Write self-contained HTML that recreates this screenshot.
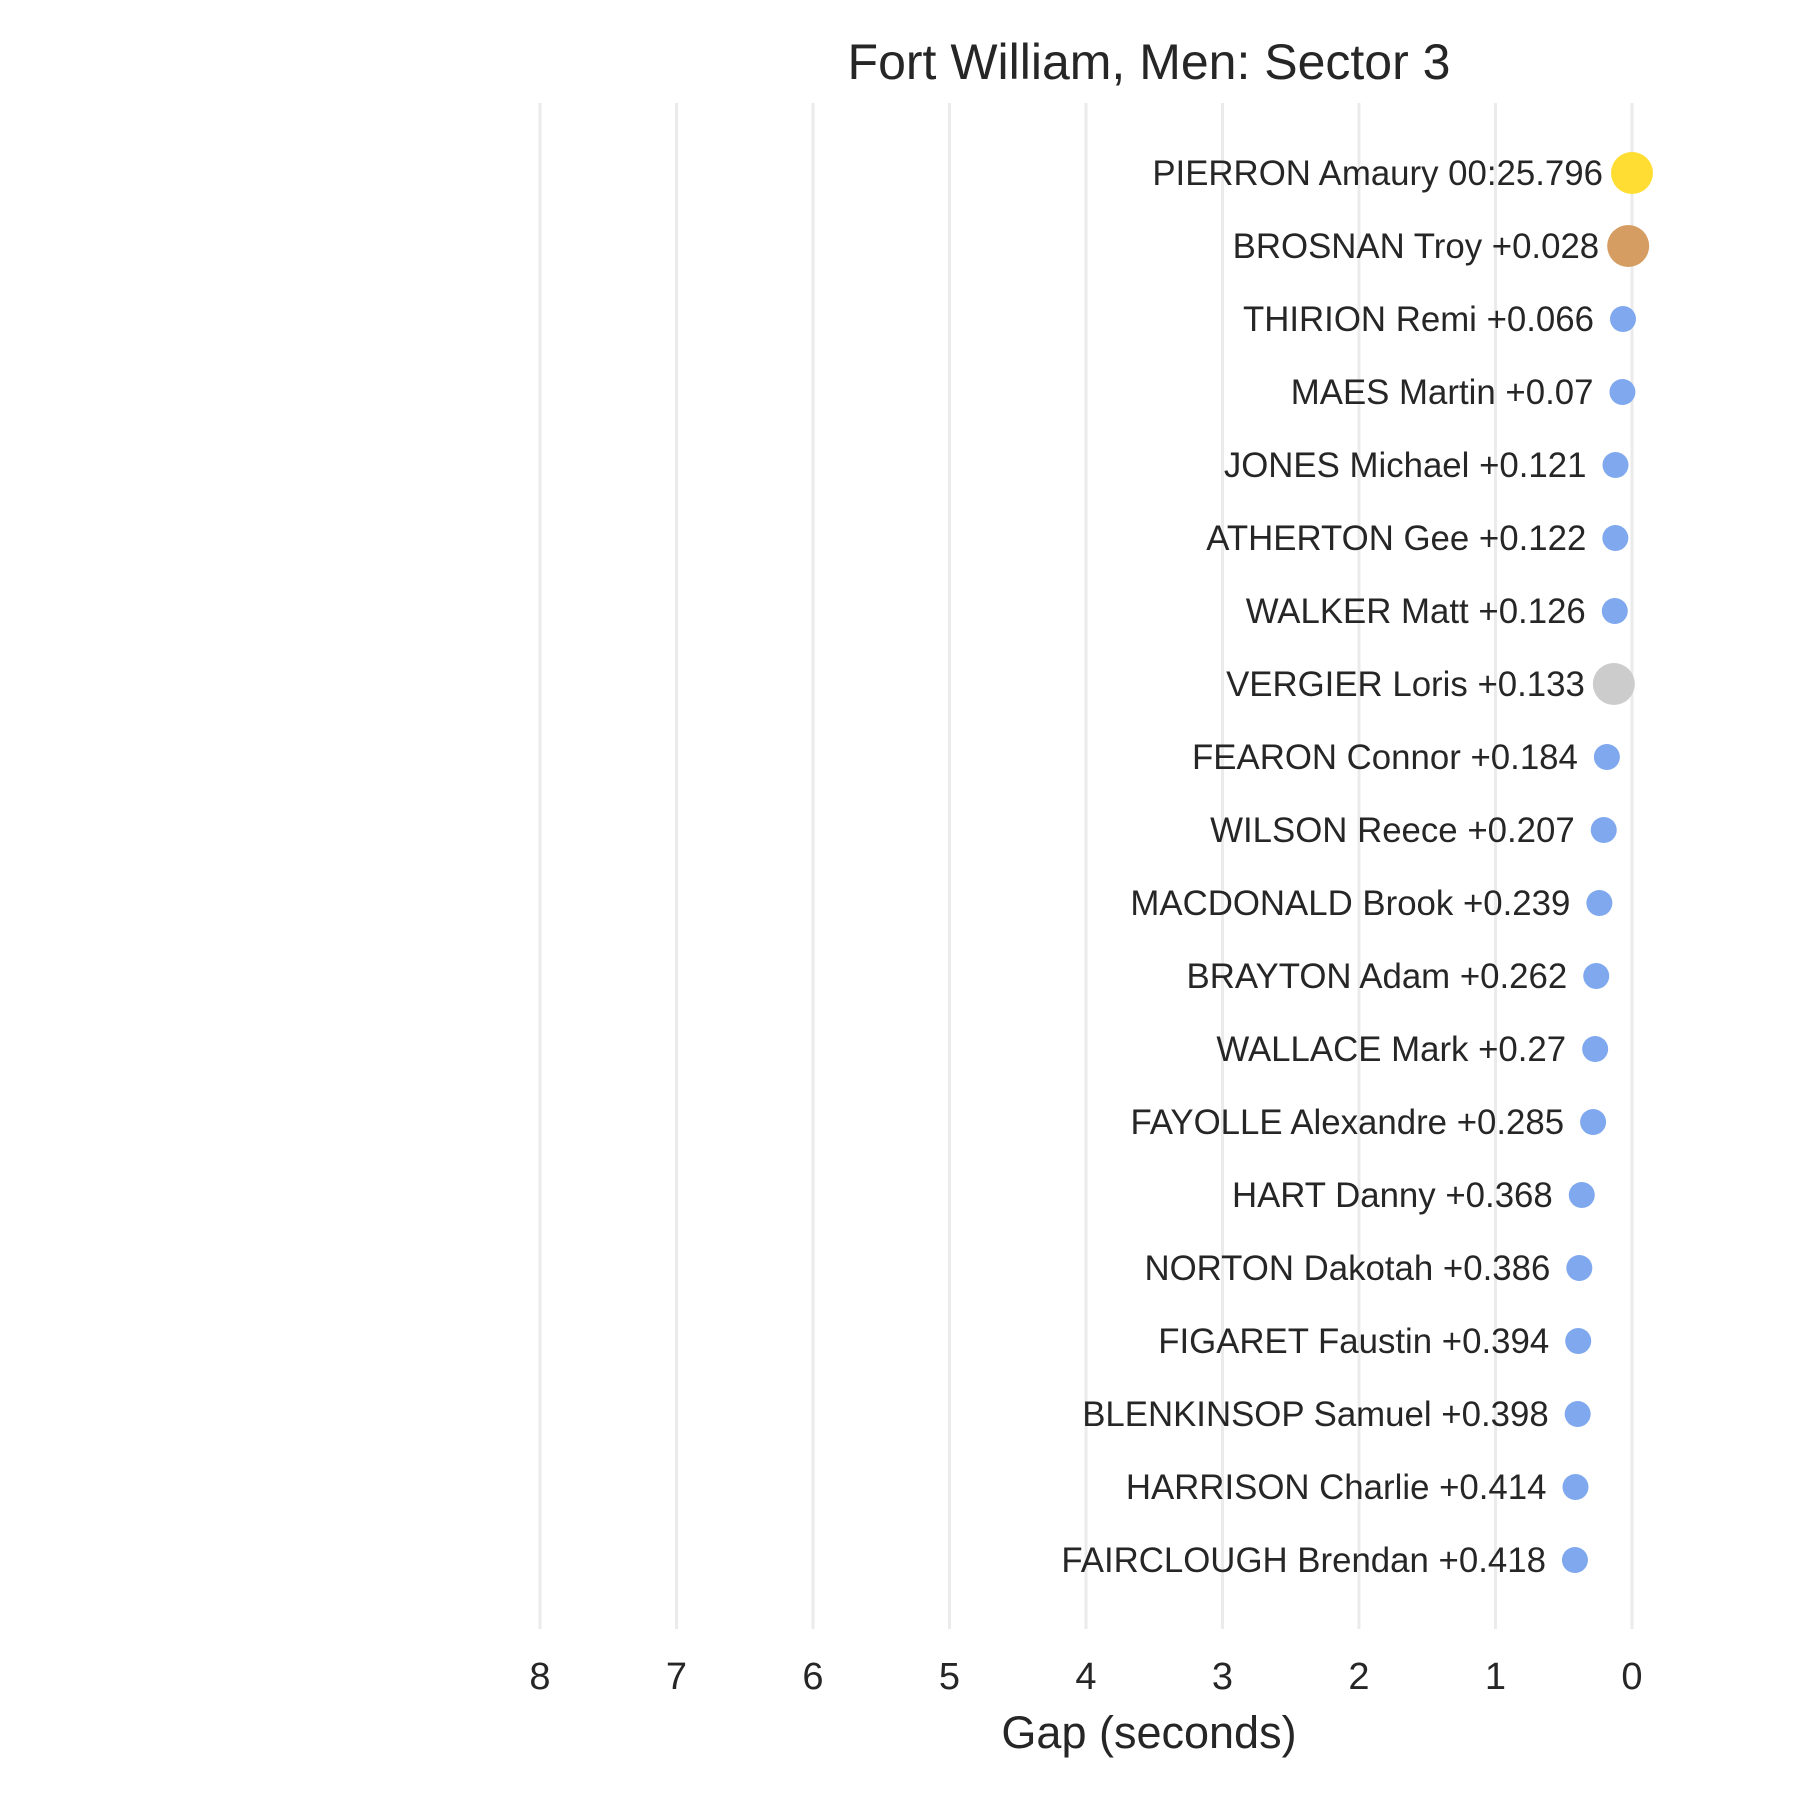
<!DOCTYPE html>
<html><head><meta charset="utf-8"><style>
html,body{margin:0;padding:0;background:#fff;}
svg{display:block;font-family:"Liberation Sans",Arial,sans-serif;}
</style></head><body>
<svg id="chart" width="1800" height="1800" viewBox="0 0 1800 1800">
<text x="1149" y="79" font-size="50" fill="#262626" text-anchor="middle">Fort William, Men: Sector 3</text>
<g id="grid"></g>
<g id="ticks"></g>
<g id="marks"></g>
<text x="1149" y="1748" font-size="45" fill="#262626" text-anchor="middle">Gap (seconds)</text>
</svg>
<script>
const riders = ["PIERRON Amaury","BROSNAN Troy","THIRION Remi","MAES Martin","JONES Michael","ATHERTON Gee","WALKER Matt","VERGIER Loris","FEARON Connor","WILSON Reece","MACDONALD Brook","BRAYTON Adam","WALLACE Mark","FAYOLLE Alexandre","HART Danny","NORTON Dakotah","FIGARET Faustin","BLENKINSOP Samuel","HARRISON Charlie","FAIRCLOUGH Brendan"];
const gaps = [0,0.028,0.066,0.07,0.121,0.122,0.126,0.133,0.184,0.207,0.239,0.262,0.27,0.285,0.368,0.386,0.394,0.398,0.414,0.418];
const gapLabels = ["00:25.796","+0.028","+0.066","+0.07","+0.121","+0.122","+0.126","+0.133","+0.184","+0.207","+0.239","+0.262","+0.27","+0.285","+0.368","+0.386","+0.394","+0.398","+0.414","+0.418"];
const medals = ["gold","bronze","","","","","","silver","","","","","","","","","","","",""];
const xTicks = [8,7,6,5,4,3,2,1,0];

const NS="http://www.w3.org/2000/svg";
const x = v => 1632 - v*136.5;
const y = i => 173 + i*73;
const colors = {gold:"#FFDD33",bronze:"#D69D62",silver:"#CCCCCC","":"#80A8EE"};
const grid=document.getElementById('grid'), ticks=document.getElementById('ticks'), marks=document.getElementById('marks');
xTicks.forEach(t=>{
  const l=document.createElementNS(NS,'line');
  l.setAttribute('x1',x(t));l.setAttribute('x2',x(t));l.setAttribute('y1',103);l.setAttribute('y2',1629);
  l.setAttribute('stroke','#EBEBEB');l.setAttribute('stroke-width',3);
  
  
  grid.appendChild(l);
  const tx=document.createElementNS(NS,'text');
  tx.setAttribute('x',x(t));tx.setAttribute('y',1689);tx.setAttribute('font-size',38);
  tx.setAttribute('fill','#262626');tx.setAttribute('text-anchor','middle');
  tx.textContent=t;
  
  
  ticks.appendChild(tx);
});
riders.forEach((r,i)=>{
  const m=medals[i];
  const c=document.createElementNS(NS,'circle');
  c.setAttribute('cx',x(gaps[i]));c.setAttribute('cy',y(i));c.setAttribute('r',m?21:13);
  c.setAttribute('fill',colors[m]);
  
  
  marks.appendChild(c);
  const t=document.createElementNS(NS,'text');
  t.setAttribute('x',x(gaps[i])-29);t.setAttribute('y',y(i)+12);t.setAttribute('font-size',34.8);
  t.setAttribute('fill','#262626');t.setAttribute('text-anchor','end');
  t.textContent=r+' '+gapLabels[i];
  
  
  marks.appendChild(t);
});
</script>
</body></html>
